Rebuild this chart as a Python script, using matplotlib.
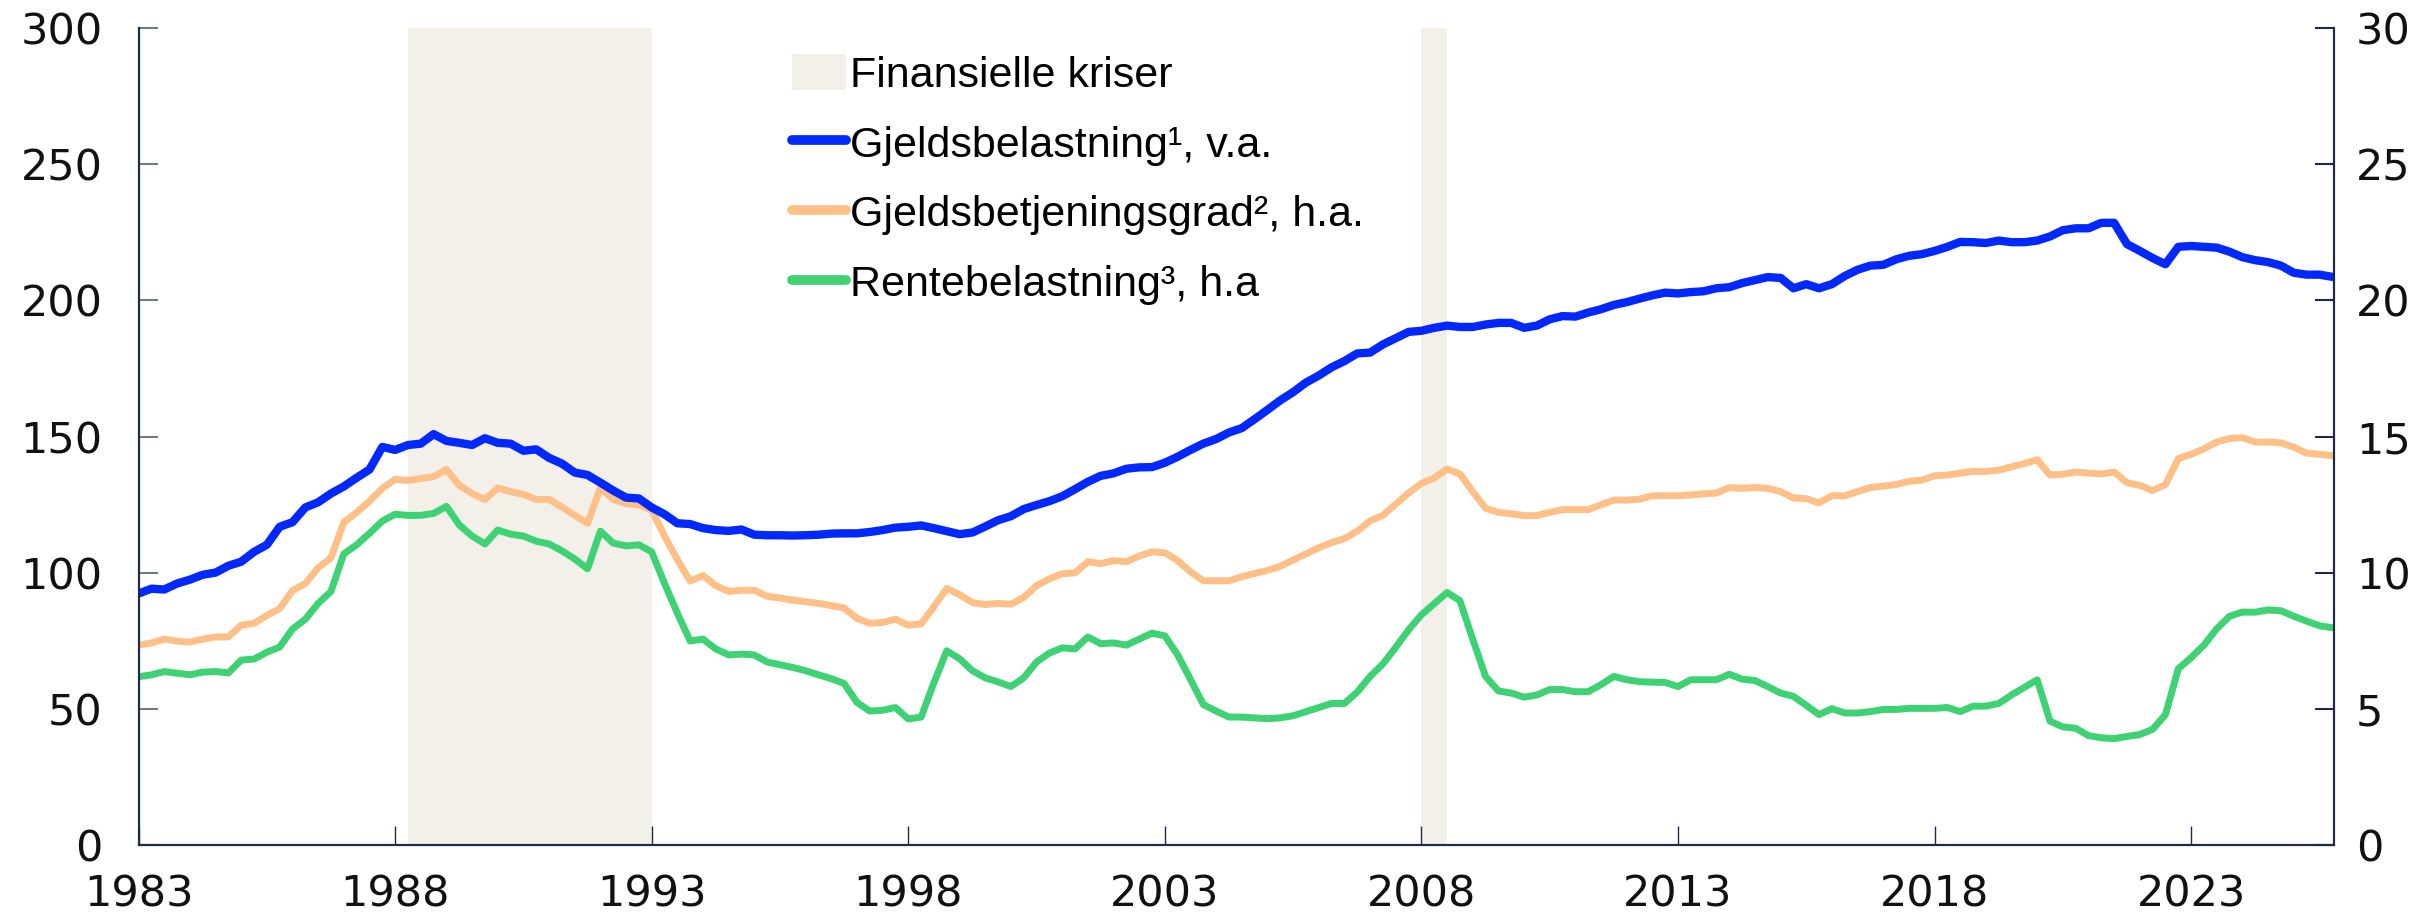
import numpy as np
import matplotlib.pyplot as plt
from matplotlib.patches import Patch
from matplotlib.lines import Line2D

# quarterly, 1983K1 - 2025K4
start_year = 1983
gjeldsbelastning = [  # prosent, venstre akse
    92.4, 94.2, 93.9, 96.1, 97.5, 99.3, 100.1, 102.6, 104.1, 107.7, 110.3, 116.9, 118.6, 124.0, 125.9,
    129.1, 131.7, 134.9, 137.9, 146.2, 145.1, 146.9, 147.4, 150.9, 148.4, 147.7, 146.9, 149.4, 147.7,
    147.4, 144.8, 145.3, 142.2, 140.1, 136.8, 135.9, 133.1, 130.2, 127.6, 127.3, 124.0, 121.5, 118.2, 117.9,
    116.4, 115.7, 115.4, 115.9, 114.0, 113.8, 113.8, 113.7, 113.8, 114.0, 114.4, 114.5, 114.5, 115.0,
    115.7, 116.6, 116.9, 117.4, 116.4, 115.3, 114.2, 114.8, 117.0, 119.3, 120.8, 123.4, 124.9, 126.3,
    128.1, 130.7, 133.4, 135.6, 136.5, 138.2, 138.7, 138.8, 140.4, 142.6, 145.1, 147.4, 149.1, 151.5,
    153.1, 156.4, 159.8, 163.3, 166.3, 169.8, 172.4, 175.4, 177.7, 180.5, 180.8, 183.8, 186.1, 188.4,
    188.8, 189.9, 190.7, 190.2, 190.2, 191.1, 191.7, 191.7, 189.9, 190.7, 193.0, 194.2, 194.0, 195.5,
    196.7, 198.3, 199.3, 200.6, 201.8, 202.8, 202.5, 203.0, 203.3, 204.4, 204.8, 206.3, 207.4, 208.5, 208.2,
    204.4, 205.9, 204.4, 205.9, 208.9, 211.2, 212.7, 213.0, 215.0, 216.3, 216.9, 218.1, 219.6, 221.4,
    221.3, 221.0, 221.9, 221.3, 221.3, 221.9, 223.4, 225.7, 226.4, 226.4, 228.4, 228.4, 220.6, 218.1,
    215.5, 213.2, 219.6, 219.9, 219.6, 219.3, 217.8, 215.8, 214.7, 214.0, 212.7, 210.1, 209.4, 209.4, 208.6,
]
gjeldsbetjeningsgrad = [  # prosent, høyre akse
    7.35, 7.43, 7.57, 7.50, 7.46, 7.57, 7.65, 7.65, 8.08, 8.15, 8.44, 8.69, 9.35, 9.61, 10.19, 10.55,
    11.86, 12.22, 12.63, 13.10, 13.43, 13.39, 13.46, 13.53, 13.79, 13.21, 12.91, 12.69, 13.12, 12.98,
    12.88, 12.69, 12.70, 12.41, 12.11, 11.82, 13.12, 12.69, 12.54, 12.49, 12.30, 11.35, 10.48, 9.70,
    9.90, 9.53, 9.32, 9.36, 9.36, 9.14, 9.08, 9.00, 8.94, 8.88, 8.80, 8.71, 8.33, 8.15, 8.18, 8.30,
    8.08, 8.13, 8.76, 9.43, 9.20, 8.91, 8.84, 8.88, 8.85, 9.10, 9.53, 9.78, 9.97, 10.00, 10.41, 10.34,
    10.45, 10.41, 10.62, 10.77, 10.74, 10.45, 10.04, 9.71, 9.71, 9.71,
    9.86, 9.98, 10.09, 10.24, 10.47, 10.70, 10.92, 11.11, 11.26, 11.53, 11.91, 12.11, 12.52, 12.93,
    13.28, 13.48, 13.81, 13.63, 12.98, 12.37, 12.22, 12.17, 12.10, 12.10, 12.22, 12.32, 12.32, 12.32,
    12.50, 12.67, 12.67, 12.70, 12.83, 12.83, 12.83, 12.86, 12.90, 12.93, 13.13, 13.10, 13.13, 13.10, 12.98,
    12.75, 12.72, 12.57, 12.83, 12.83, 12.98, 13.13, 13.18, 13.24, 13.36, 13.40, 13.56, 13.59, 13.66,
    13.72, 13.72, 13.77, 13.89, 14.01, 14.15, 13.59, 13.62, 13.70, 13.66, 13.63, 13.70, 13.31, 13.21,
    13.02, 13.24, 14.19, 14.35, 14.55, 14.80, 14.93, 14.96, 14.80, 14.80, 14.77, 14.61, 14.39, 14.35, 14.30,
]
rentebelastning = [  # prosent, høyre akse
    6.19, 6.26, 6.38, 6.32, 6.26, 6.36, 6.38, 6.33, 6.80, 6.84, 7.09, 7.28, 7.94, 8.30, 8.88, 9.32,
    10.70, 11.03, 11.45, 11.90, 12.15, 12.11, 12.11, 12.18, 12.44, 11.76, 11.35, 11.06, 11.57, 11.42,
    11.35, 11.16, 11.06, 10.81, 10.51, 10.15, 11.53, 11.09, 10.99, 11.03, 10.77, 9.61, 8.52, 7.50,
    7.57, 7.21, 6.99, 7.02, 6.99, 6.73, 6.63, 6.53, 6.41, 6.26, 6.12, 5.94, 5.25, 4.93, 4.96, 5.06,
    4.64, 4.71, 5.97, 7.14, 6.85, 6.41, 6.15, 6.00, 5.83, 6.15, 6.73, 7.06, 7.25, 7.21, 7.65, 7.40,
    7.43, 7.35, 7.57, 7.79, 7.69, 6.99, 6.09, 5.17, 4.93, 4.71,
    4.71, 4.68, 4.65, 4.68, 4.76, 4.91, 5.06, 5.21, 5.21, 5.63, 6.20, 6.66, 7.27, 7.91, 8.46, 8.87,
    9.28, 8.98, 7.57, 6.20, 5.67, 5.59, 5.44, 5.52, 5.72, 5.72, 5.64, 5.64, 5.90, 6.20, 6.08, 6.01,
    5.99, 5.98, 5.83, 6.08, 6.08, 6.08, 6.28, 6.10, 6.05, 5.83, 5.59,
    5.47, 5.14, 4.80, 5.02, 4.86, 4.86, 4.91, 4.99, 4.99, 5.03, 5.03, 5.03, 5.06, 4.91, 5.11, 5.11,
    5.21, 5.52, 5.80, 6.08, 4.56, 4.35, 4.30, 4.03, 3.95, 3.92, 4.00, 4.07, 4.26, 4.80, 6.48, 6.89,
    7.35, 7.95, 8.41, 8.56, 8.56, 8.64, 8.61, 8.41, 8.23, 8.06, 7.99,
]
kriser = [(1988.25, 1993.0), (2008.0, 2008.5)]
xticks = list(range(1983, 2024, 5))

labels = ["Finansielle kriser", "Gjeldsbelastning¹, v.a.",
          "Gjeldsbetjeningsgrad², h.a.", "Rentebelastning³, h.a"]

BLUE = "#0028ff"
ORANGE = "#ffc088"
GREEN = "#3fd275"
SHADE = "#f3f0e9"
NAVY = "#1c2a48"

x = start_year + np.arange(len(gjeldsbelastning)) / 4

fig = plt.figure(figsize=(24.31, 9.22), dpi=100)
ax2 = fig.add_axes([0.057, 0.083, 0.903, 0.887])   # right axis drawn underneath
ax = ax2.twinx()
ax.yaxis.tick_left()
ax2.yaxis.tick_right()

# crisis shading sits behind every line
for a, b in kriser:
    ax2.axvspan(a, b, color=SHADE, lw=0, zorder=0)

ax2.plot(x, gjeldsbetjeningsgrad, color=ORANGE, lw=5, solid_joinstyle="round")
ax2.plot(x, rentebelastning, color=GREEN, lw=5, solid_joinstyle="round")
ax.plot(x, gjeldsbelastning, color=BLUE, lw=6, solid_joinstyle="round")

ax.set_xlim(1983, 2025.78)
ax.set_ylim(0, 300)
ax2.set_ylim(0, 30)
ax.set_yticks(range(0, 301, 50))
ax2.set_yticks(range(0, 31, 5))
ax2.set_xticks(xticks)

tick_font = dict(family=["DejaVu Sans"], fontsize=31, color="#111111")
ax2.set_xticklabels([str(t) for t in xticks], **tick_font)
ax.set_yticklabels([str(t) for t in range(0, 301, 50)], **tick_font)
ax2.set_yticklabels([str(t) for t in range(0, 31, 5)], **tick_font)

ax2.tick_params(axis="x", direction="in", length=14, width=1, color=NAVY, pad=20)
ax.tick_params(axis="y", direction="in", length=14, width=1.5, color="#6e7a8e", pad=26)
ax2.tick_params(axis="y", direction="in", length=14, width=1.5, color=NAVY, pad=16)

for a in (ax, ax2):
    a.spines["top"].set_visible(False)
    for s in ("left", "right", "bottom"):
        a.spines[s].set_color(NAVY)
        a.spines[s].set_linewidth(1.5)

handles = [
    Patch(facecolor=SHADE, edgecolor="none"),
    Line2D([], [], color=BLUE, lw=7, solid_capstyle="round"),
    Line2D([], [], color=ORANGE, lw=7, solid_capstyle="round"),
    Line2D([], [], color=GREEN, lw=7, solid_capstyle="round"),
]
leg = ax.legend(handles, labels, loc="upper left", bbox_to_anchor=(0.28, 1.015),
                frameon=False, handlelength=1.25, handleheight=0.9, handletextpad=0.1,
                labelspacing=0.65, prop={"family": ["Liberation Sans", "DejaVu Sans"], "size": 31})

fig.savefig("out.png", dpi=100)
